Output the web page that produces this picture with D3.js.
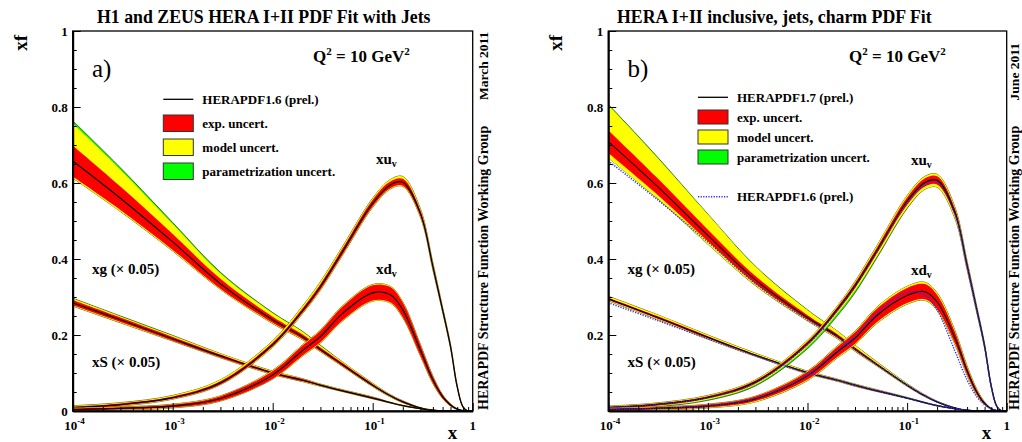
<!DOCTYPE html>
<html>
<head>
<meta charset="utf-8">
<script src="https://cdn.jsdelivr.net/npm/d3@7"></script>
<style>
  body { margin: 0; background: #fff; }
  text { font-family: "Liberation Serif", "Times New Roman", serif; font-weight: bold; fill: #000; }
</style>
</head>
<body>
<svg id="chart" width="1022" height="442"></svg>
<script>
// x points shared by every curve
const xGrid = [1e-4, 3e-4, 1e-3, 3e-3, 1e-2, 2e-2, 3e-2, 5e-2, 0.1, 0.15, 0.2, 0.3, 0.4, 0.5, 0.6, 0.7, 0.8, 0.9, 1];

// rows: [central, exp, model+, model-, param+, param-]
// HERAPDF1.6 (panel a)
const xg16 = [
  [0.658, 0.041, 0.058, 0.004, 0.007], [0.560, 0.031, 0.044, 0.004, 0.005], [0.445, 0.021, 0.026, 0.003, 0.004],
  [0.335, 0.013, 0.014, 0.002, 0.003], [0.240, 0.008, 0.009, 0.002, 0.002], [0.195, 0.006, 0.007, 0.002, 0.001],
  [0.162, 0.005, 0.005, 0.001, 0.001], [0.122, 0.004, 0.003, 0.001], [0.068, 0.003, 0.002, 0.001],
  [0.040, 0.002, 0.001, 0.001], [0.024, 0.002, 0.001], [0.008, 0.001], [0.002, 0.001], [0.0005],
  [0], [0], [0], [0], [0]
];
const xS16 = [
  [0.285, 0.007, 0.004, 0.002, 0.001], [0.240, 0.006, 0.003, 0.002, 0.001], [0.190, 0.005, 0.003, 0.001, 0.001],
  [0.145, 0.004, 0.002, 0.001], [0.100, 0.003, 0.002, 0.001], [0.081, 0.003, 0.001, 0.001],
  [0.068, 0.002, 0.001, 0.001], [0.053, 0.002, 0.001], [0.034, 0.002, 0.001], [0.022, 0.001],
  [0.014, 0.001], [0.006], [0.002], [0.0005], [0], [0], [0], [0], [0]
];
const xuv16 = [
  [0.009, 0.003, 0.002, 0.001], [0.017, 0.003, 0.002, 0.001], [0.035, 0.003, 0.003, 0.001],
  [0.074, 0.004, 0.004, 0.001], [0.175, 0.005, 0.005, 0.002], [0.265, 0.006, 0.006, 0.002],
  [0.327, 0.007, 0.006, 0.002], [0.420, 0.008, 0.005, 0.002], [0.547, 0.009, 0.004, 0.002],
  [0.595, 0.009, 0.005, 0.002], [0.602, 0.009, 0.006, 0.002], [0.520, 0.008, 0.004, 0.002],
  [0.380, 0.007, 0.003, 0.002], [0.266, 0.005, 0.002, 0.001], [0.170, 0.004, 0.002, 0.001],
  [0.064, 0.003, 0.001], [0.011, 0.001], [0], [0]
];
const xdv16 = [
  [0.004, 0.003, 0.001, 0.001], [0.007, 0.003, 0.001, 0.001], [0.013, 0.004, 0.001, 0.001],
  [0.033, 0.006, 0.001, 0.001], [0.095, 0.010, 0.002, 0.001], [0.160, 0.013, 0.002, 0.002],
  [0.196, 0.015, 0.002, 0.002], [0.257, 0.018, 0.002, 0.002], [0.311, 0.020, 0.002, 0.002],
  [0.306, 0.020, 0.002, 0.002], [0.266, 0.019, 0.002, 0.002], [0.160, 0.014, 0.001, 0.001],
  [0.082, 0.009, 0.001, 0.001], [0.038, 0.005], [0.016, 0.003], [0.005, 0.001], [0.001], [0], [0]
];

// HERAPDF1.7 (panel b)
const xg17 = [
  [0.709, 0.030, 0.066, 0.013, 0.002], [0.595, 0.022, 0.054, 0.010, 0.002], [0.462, 0.015, 0.040, 0.008, 0.001],
  [0.345, 0.010, 0.025, 0.005, 0.001], [0.246, 0.006, 0.013, 0.003, 0.001], [0.197, 0.005, 0.008, 0.002],
  [0.163, 0.004, 0.006, 0.002], [0.122, 0.003, 0.004, 0.001], [0.068, 0.002, 0.002, 0.001],
  [0.040, 0.002, 0.001], [0.024, 0.001, 0.001], [0.008, 0.001], [0.002], [0.0005], [0], [0], [0], [0], [0]
];
const xS17 = [
  [0.295, 0.003, 0.004, 0.002], [0.248, 0.003, 0.004, 0.002], [0.194, 0.003, 0.003, 0.002],
  [0.147, 0.002, 0.003, 0.001], [0.101, 0.002, 0.002, 0.001], [0.081, 0.002, 0.001, 0.001],
  [0.068, 0.002, 0.001, 0.001], [0.053, 0.002, 0.001], [0.034, 0.001, 0.001], [0.022, 0.001],
  [0.014, 0.001], [0.006], [0.002], [0.0005], [0], [0], [0], [0], [0]
];
const xuv17 = [
  [0.009, 0.003, 0.001, 0.002, 0, 0.001], [0.017, 0.003, 0.001, 0.002, 0, 0.001], [0.036, 0.003, 0.002, 0.003, 0, 0.002],
  [0.076, 0.004, 0.002, 0.003, 0, 0.003], [0.178, 0.005, 0.003, 0.004, 0, 0.005], [0.268, 0.006, 0.003, 0.005, 0, 0.006],
  [0.330, 0.007, 0.004, 0.006, 0, 0.006], [0.423, 0.008, 0.005, 0.007, 0, 0.004], [0.552, 0.010, 0.005, 0.007, 0, 0.002],
  [0.601, 0.011, 0.005, 0.007], [0.607, 0.011, 0.005, 0.007], [0.525, 0.010, 0.004, 0.006],
  [0.384, 0.008, 0.003, 0.004], [0.268, 0.006, 0.002, 0.003], [0.171, 0.004, 0.002, 0.002],
  [0.065, 0.003, 0.001, 0.001], [0.011, 0.001], [0], [0]
];
const xdv17 = [
  [0.004, 0.003, 0.001, 0.001], [0.007, 0.003, 0.001, 0.001], [0.013, 0.004, 0.001, 0.001],
  [0.032, 0.006, 0.001, 0.002], [0.093, 0.010, 0.002, 0.003], [0.156, 0.013, 0.003, 0.003],
  [0.192, 0.015, 0.003, 0.003], [0.252, 0.018, 0.004, 0.003], [0.304, 0.020, 0.004, 0.003],
  [0.314, 0.020, 0.005, 0.003], [0.287, 0.019, 0.005, 0.003], [0.195, 0.015, 0.004, 0.003],
  [0.106, 0.010, 0.003, 0.002], [0.050, 0.006, 0.002, 0.001], [0.020, 0.003, 0.001], [0.006, 0.001],
  [0.001], [0], [0]
];

const yTicksA = [0, 0.2, 0.4, 0.6, 0.8, 1];
const yTicksB = [0.2, 0.4, 0.6, 0.8, 1];
const xDecades = [1e-4, 1e-3, 1e-2, 1e-1, 1];
const xExp = ["-4", "-3", "-2", "-1", ""];

const legendA = ["HERAPDF1.6 (prel.)", "exp. uncert.", "model uncert.", "parametrization uncert."];
const legendB = ["HERAPDF1.7 (prel.)", "exp. uncert.", "model uncert.", "parametrization uncert.", "HERAPDF1.6 (prel.)"];

const RED = "#ff0000", YEL = "#ffff00", GRN = "#00ff00";

const svg = d3.select("#chart");
svg.append("rect").attr("width", 1022).attr("height", 442).attr("fill", "#fff");

function pts(rows) {
  return rows.map((r, i) => {
    const [c, e = 0, mu = 0, md = 0, pu = 0, pd = 0] = r;
    return {x: xGrid[i], c, e, mu, md, pu, pd};
  });
}

function panel(cfg) {
  const x = d3.scaleLog().domain([1e-4, 1]).range(cfg.xr);
  const y = d3.scaleLinear().domain([0, 1]).range([411, 31]);
  const g = svg.append("g");

  const clipId = "clip" + cfg.id;
  g.append("clipPath").attr("id", clipId)
    .append("rect").attr("x", cfg.xr[0]).attr("y", 31)
    .attr("width", cfg.xr[1] - cfg.xr[0]).attr("height", 380);

  const plot = g.append("g").attr("clip-path", `url(#${clipId})`);

  const curve = d3.curveCatmullRom.alpha(0.5);
  const band = (lo, hi) => d3.area()
    .x(d => x(d.x)).y0(d => y(lo(d))).y1(d => y(hi(d)))
    .curve(curve);
  const line = d3.line().x(d => x(d.x)).y(d => y(d.c)).curve(curve);

  cfg.curves.forEach(rows => {
    const d = pts(rows);
    plot.append("path").datum(d)
      .attr("d", band(p => p.c - p.e - p.md - p.pd, p => p.c + p.e + p.mu + p.pu))
      .attr("fill", GRN).attr("stroke", "#3a2a00").attr("stroke-width", 0.7);
    plot.append("path").datum(d)
      .attr("d", band(p => p.c - p.e - p.md, p => p.c + p.e + p.mu))
      .attr("fill", YEL);
    plot.append("path").datum(d)
      .attr("d", band(p => p.c - p.e, p => p.c + p.e))
      .attr("fill", RED);
    plot.append("path").datum(d).attr("d", line)
      .attr("fill", "none").attr("stroke", "#000").attr("stroke-width", 1.2);
  });

  if (cfg.dotted) {
    cfg.dotted.forEach(rows => {
      plot.append("path").datum(pts(rows)).attr("d", line)
        .attr("fill", "none").attr("stroke", "#2b2bff").attr("stroke-width", 1.5)
        .attr("stroke-dasharray", "1.2 1.4");
    });
  }

  // frame
  g.append("rect").attr("x", cfg.xr[0]).attr("y", 31)
    .attr("width", cfg.xr[1] - cfg.xr[0]).attr("height", 380)
    .attr("fill", "none").attr("stroke", "#000").attr("stroke-width", 1.3);

  // x axis ticks
  const minor = [];
  xDecades.slice(0, 4).forEach(dec => { for (let k = 2; k <= 9; k++) minor.push(dec * k); });
  g.append("g").attr("transform", "translate(0,411)")
    .call(d3.axisBottom(x).tickValues(minor).tickSize(-4).tickFormat("").tickSizeOuter(0))
    .call(a => a.select(".domain").remove());
  g.append("g").attr("transform", "translate(0,411)")
    .call(d3.axisBottom(x).tickValues(xDecades).tickSize(-8).tickFormat("").tickSizeOuter(0))
    .call(a => a.select(".domain").attr("stroke-width", 2));

  // x tick labels 10^n
  xDecades.forEach((v, i) => {
    const t = g.append("text").attr("y", 430).attr("font-size", 13);
    if (xExp[i]) {
      t.attr("x", x(v) - 8.5);
      t.append("tspan").text("10");
      t.append("tspan").attr("dy", -6).attr("font-size", 9).text(xExp[i]);
    } else {
      t.attr("x", x(v)).attr("text-anchor", "middle").text("1");
    }
  });

  // y axis
  const yMinor = d3.range(0, 1.0001, 0.05);
  g.append("g").attr("transform", `translate(${cfg.xr[0]},0)`)
    .call(d3.axisLeft(y).tickValues(yMinor).tickSize(-4).tickFormat("").tickSizeOuter(0))
    .call(a => a.select(".domain").remove());
  g.append("g").attr("transform", `translate(${cfg.xr[0]},0)`)
    .call(d3.axisLeft(y).tickValues(yTicksA).tickSize(-8).tickFormat("").tickSizeOuter(0))
    .call(a => a.select(".domain").attr("stroke-width", 2));
  cfg.yTicks.forEach(v => {
    g.append("text").attr("x", cfg.xr[0] - 5).attr("y", y(v) + 4.5)
      .attr("text-anchor", "end").attr("font-size", 13).text(v);
  });

  const X = cfg.xr[0] - 72.7;

  // titles and labels
  g.append("text").attr("x", cfg.titleX).attr("y", 22.5).attr("font-size", 17.8).text(cfg.title);
  g.append("text").attr("transform", `translate(${26.7 + X},35) rotate(-90)`)
    .attr("text-anchor", "end").attr("font-size", 19).text("xf");
  g.append("text").attr("x", cfg.xr[1] - 25).attr("y", 438.5).attr("font-size", 19).text("x");
  g.append("text").attr("x", 92 + X).attr("y", 77).attr("font-size", 25)
    .style("font-weight", "normal").text(cfg.tag);

  const q = g.append("text").attr("x", cfg.qX).attr("y", 62).attr("font-size", 17);
  q.append("tspan").text("Q");
  q.append("tspan").attr("dy", -7).attr("font-size", 11).text("2");
  q.append("tspan").attr("dy", 7).text(" = 10 GeV");
  q.append("tspan").attr("dy", -7).attr("font-size", 11).text("2");

  // vertical side texts
  g.append("text").attr("transform", `translate(${cfg.sideX},410) rotate(-90)`)
    .attr("font-size", 14).text("HERAPDF Structure Function Working Group");
  g.append("text").attr("transform", `translate(${cfg.sideX},${cfg.dateY}) rotate(-90)`)
    .attr("text-anchor", "end").attr("font-size", 13.5).text(cfg.date);

  // curve labels
  const sub = (px, py, main) => {
    const t = g.append("text").attr("x", px).attr("y", py).attr("font-size", 15);
    t.append("tspan").text(main);
    t.append("tspan").attr("dy", 3).attr("font-size", 10).text("v");
  };
  sub(cfg.uvX, cfg.uvY, "xu");
  sub(cfg.uvX, cfg.dvY, "xd");
  g.append("text").attr("x", 92 + X).attr("y", 274).attr("font-size", 15).text("xg (× 0.05)");
  g.append("text").attr("x", 92 + X).attr("y", 367).attr("font-size", 15).text("xS (× 0.05)");

  // legend
  const L = cfg.legend;
  g.append("line").attr("x1", L.x).attr("x2", L.x + 30).attr("y1", L.y0).attr("y2", L.y0)
    .attr("stroke", "#000").attr("stroke-width", 1.3);
  g.append("text").attr("x", L.x + 39).attr("y", L.y0 + 4.5).attr("font-size", 13).text(L.labels[0]);
  [RED, YEL, GRN].forEach((c, i) => {
    const by = L.y0 + L.first + i * L.step;
    g.append("rect").attr("x", L.x).attr("y", by).attr("width", 30).attr("height", L.h)
      .attr("fill", c).attr("stroke", "#333").attr("stroke-width", 1);
    g.append("text").attr("x", L.x + 39).attr("y", by + L.h / 2 + 4.5)
      .attr("font-size", 13).text(L.labels[i + 1]);
  });
  if (L.labels[4]) {
    g.append("line").attr("x1", L.x).attr("x2", L.x + 30).attr("y1", L.dotY).attr("y2", L.dotY)
      .attr("stroke", "#2b2bff").attr("stroke-width", 1.5).attr("stroke-dasharray", "1.2 1.4");
    g.append("text").attr("x", L.x + 39).attr("y", L.dotY + 4.5).attr("font-size", 13).text(L.labels[4]);
  }
}

panel({
  id: "a", xr: [72.7, 472.7], curves: [xg16, xS16, xuv16, xdv16], yTicks: yTicksA,
  title: "H1 and ZEUS HERA I+II PDF Fit with Jets", titleX: 97, tag: "a)", qX: 313,
  sideX: 487.5, date: "March 2011", dateY: 31.7, uvX: 376, uvY: 164, dvY: 274,
  legend: {x: 163.3, y0: 99.3, first: 15.7, step: 24, h: 16.5, labels: legendA}
});
panel({
  id: "b", xr: [608.3, 1006.7], curves: [xg17, xS17, xuv17, xdv17], dotted: [xg16, xS16, xuv16, xdv16],
  yTicks: yTicksB, title: "HERA I+II inclusive, jets, charm PDF Fit", titleX: 617, tag: "b)", qX: 849,
  sideX: 1019, date: "June 2011", dateY: 43, uvX: 911, uvY: 165, dvY: 275,
  legend: {x: 698, y0: 97.3, first: 12.7, step: 20, h: 14, dotY: 196.7, labels: legendB}
});
</script>
</body>
</html>
